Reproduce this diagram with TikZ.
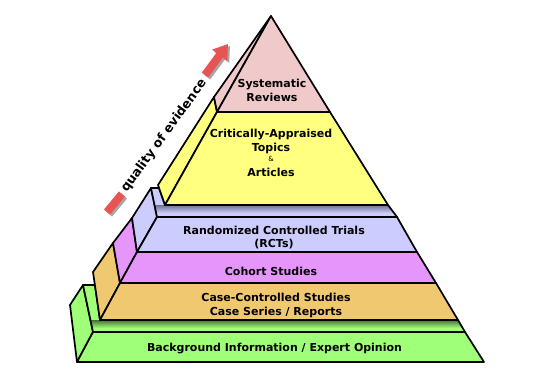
\documentclass[tikz,border=0pt]{standalone}
\usepackage{fontspec}
\setmainfont{DejaVu Sans}
\usetikzlibrary{arrows.meta}
\definecolor{cPink}{RGB}{240,202,202}
\definecolor{cYellow}{RGB}{255,255,128}
\definecolor{cLav}{RGB}{204,204,255}
\definecolor{cMag}{RGB}{230,150,250}
\definecolor{cOrange}{RGB}{240,200,112}
\definecolor{cGreen}{RGB}{160,255,120}
\definecolor{cRed}{RGB}{232,84,84}
\begin{document}
\begin{tikzpicture}[x=1pt,y=-1pt,
  face/.style={draw=black,line width=1.7pt,line join=round},
  lbl/.style={font=\fontsize{11}{14}\selectfont\bfseries,align=center,text=black,inner sep=0pt},
  arrowbar/.style={line width=8pt}]
\useasboundingbox (0,0) rectangle (546,372);
\fill[white] (0,0) rectangle (546,372);

% ---- green tier ----
\filldraw[fill=cGreen,face] (83,285) -- (70,305) -- (77,362) -- (93,332) -- cycle;
\fill[cGreen] (83,285) -- (95,285) -- (100,320) -- (458,320) -- (465,332) -- (93,332) -- cycle;
\begin{scope}
  \clip (83,285) -- (95,285) -- (100,320) -- (458,320) -- (465,332) -- (93,332) -- cycle;
  \shade[top color=black!55!cGreen,bottom color=cGreen] (90,320) rectangle (470,328);
\end{scope}
\draw[face] (83,285) -- (95,285) -- (100,320) -- (458,320) -- (465,332) -- (93,332) -- cycle;
\filldraw[fill=cGreen,face] (93,332) -- (465,332) -- (484,362) -- (77,362) -- cycle;

% ---- orange tier ----
\filldraw[fill=cOrange,face] (113,243) -- (93,272) -- (100,320) -- (120,283) -- cycle;
\filldraw[fill=cOrange,face] (120,283) -- (436,283) -- (458,320) -- (100,320) -- cycle;

% ---- magenta tier ----
\filldraw[fill=cMag,face] (132,218) -- (113,243) -- (120,283) -- (137,252) -- cycle;
\filldraw[fill=cMag,face] (137,252) -- (417,252) -- (436,283) -- (120,283) -- cycle;

% ---- lavender tier ----
\filldraw[fill=cLav,face] (151,188) -- (132,218) -- (137,252) -- (157,217) -- cycle;
\fill[cLav] (151,188) -- (159,188) -- (165,205) -- (388,205) -- (397,217) -- (157,217) -- cycle;
\begin{scope}
  \clip (151,188) -- (159,188) -- (165,205) -- (388,205) -- (397,217) -- (157,217) -- cycle;
  \shade[top color=black!45!cLav,bottom color=cLav] (150,205) rectangle (400,213);
\end{scope}
\draw[face] (151,188) -- (159,188) -- (165,205) -- (388,205) -- (397,217) -- (157,217) -- cycle;
\filldraw[fill=cLav,face] (157,217) -- (397,217) -- (417,252) -- (137,252) -- cycle;

% ---- yellow tier ----
\filldraw[fill=cYellow,face] (214,97) -- (158,185) -- (165,205) -- (217,112) -- cycle;
\filldraw[fill=cYellow,face] (217,112) -- (330,112) -- (388,205) -- (165,205) -- cycle;

% ---- pink top ----
\filldraw[fill=cPink,face] (271,16) -- (214,97) -- (217,112) -- cycle;
\filldraw[fill=cPink,face] (271,16) -- (330,112) -- (217,112) -- cycle;

% ---- labels ----
\node[lbl] (sr) at (272,90) {Systematic\\Reviews};
\node[lbl] (cat1) at (271,141) {Critically-Appraised\\Topics};
\node[font=\fontsize{7}{7}\selectfont,inner sep=0pt] (amp) at (271,159) {\&};
\node[lbl] (cat2) at (271,172) {Articles};
\node[lbl,font=\fontsize{11}{13}\selectfont\bfseries] (rct) at (274,238) {Randomized Controlled Trials\\(RCTs)};
\node[lbl] (coh) at (271,271) {Cohort Studies};
\node[lbl] (ccs) at (276,305.5) {Case-Controlled Studies\\Case Series / Reports};
\node[lbl] (bg) at (274.5,349) {Background Information / Expert Opinion};

% ---- quality arrow ----
\draw[arrowbar,black!35] (109,214) -- (124,196);
\draw[arrowbar,black!35,-{Triangle[width=18pt,length=14pt]}] (207,77) -- (230,46);
\draw[arrowbar,cRed] (107,212) -- (122,194);
\draw[arrowbar,cRed,-{Triangle[width=18pt,length=14pt]}] (205,75) -- (228,44);
\node[font=\fontsize{12.6}{14}\selectfont\bfseries,text=black,rotate=54,inner sep=0pt] (q) at (164,136) {quality of evidence};
\end{tikzpicture}
\end{document}
